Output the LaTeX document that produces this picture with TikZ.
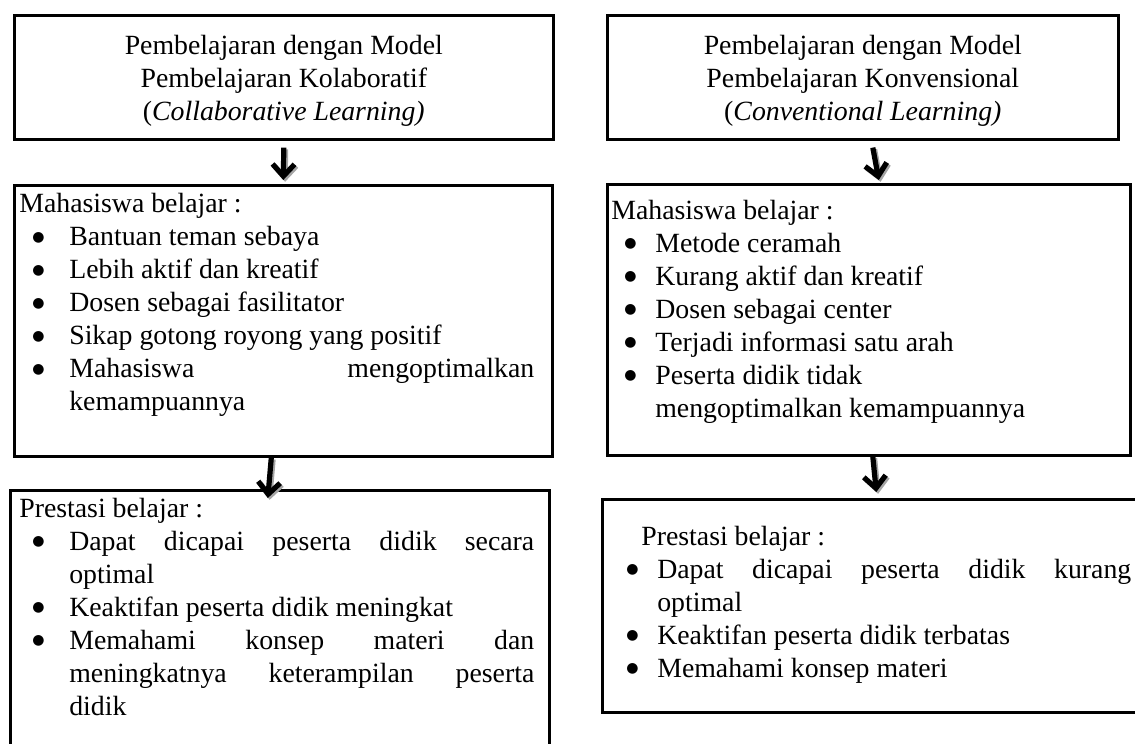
\documentclass[tikz,border=0pt]{standalone}
\usepackage{fontspec}
\setmainfont{Liberation Serif}
\newfontfamily\simbol{DejaVu Sans}
\usetikzlibrary{arrows.meta,positioning}
\newcommand{\teks}{\fontsize{13.9pt}{16.5pt}\selectfont}
\newlength{\gantung}\setlength{\gantung}{25pt}
% one bullet line of a list
\newcommand{\butir}[1]{\par\noindent\hangindent=\gantung\hangafter=1%
  \makebox[\gantung][l]{\hspace{6.5pt}\raisebox{2.4pt}{\simbol\fontsize{7pt}{7pt}\selectfont ●}}#1}
% box content: width, height, left skip, right skip, top gap, text
\newcommand{\isi}[6]{\begin{minipage}[t][#2][t]{#1}%
  \leftskip=#3\rightskip=#4\sloppy\hyphenpenalty=10000%
  \vspace*{#5}#6\end{minipage}}
\tikzset{
  basic/.style  = {draw, line width=1.3pt, inner sep=0pt, anchor=north west, font=\teks},
  judul/.style  = {basic},
  daftar/.style = {basic},
  panah/.style  = {-{Straight Barb[length=6pt,width=11pt]}, line width=2.6pt},
  bayang/.style = {panah, black!35, transform canvas={shift={(0.9pt,-0.9pt)}}}
}
\begin{document}
\begin{tikzpicture}[x=0.5pt, y=-0.5pt]
  \useasboundingbox (0,0) rectangle (1135,744);

  % top row, the two models
  \node[judul] (kolab) at (13,14)
    {\isi{269.5pt}{62pt}{0pt}{0pt}{10.2pt}{\centering Pembelajaran dengan Model\\
      Pembelajaran Kolaboratif\\ (\textit{Collaborative Learning)}}};
  \node[judul] (konven) at (606,14)
    {\isi{255.5pt}{62pt}{0pt}{0pt}{10.2pt}{\centering Pembelajaran dengan Model\\
      Pembelajaran Konvensional\\ (\textit{Conventional Learning)}}};

  % middle row, how students learn
  \node[daftar] (belajarKolab) at (13,184)
    {\isi{269pt}{135.5pt}{2.5pt}{9pt}{4.2pt}{Mahasiswa belajar :
      \butir{Bantuan teman sebaya}
      \butir{Lebih aktif dan kreatif}
      \butir{Dosen sebagai fasilitator}
      \butir{Sikap gotong royong yang positif}
      \butir{Mahasiswa mengoptimalkan\linebreak kemampuannya}}};
  \node[daftar] (belajarKonven) at (606,183)
    {\isi{261.5pt}{135.5pt}{2pt}{5pt}{7.8pt}{\setlength{\gantung}{22pt}Mahasiswa belajar :
      \butir{Metode ceramah}
      \butir{Kurang aktif dan kreatif}
      \butir{Dosen sebagai center}
      \butir{Terjadi informasi satu arah}
      \butir{Peserta didik tidak\newline mengoptimalkan kemampuannya}}};

  % bottom row, the results
  \node[daftar] (hasilKolab) at (9,489)
    {\isi{269.5pt}{140pt}{4.5pt}{7.5pt}{4pt}{Prestasi belajar :
      \butir{Dapat dicapai peserta didik secara\linebreak optimal}
      \butir{Keaktifan peserta didik meningkat}
      \butir{Memahami konsep materi dan\linebreak meningkatnya keterampilan peserta\linebreak didik}}};
  \node[daftar] (hasilKonven) at (601,498)
    {\isi{270pt}{106.5pt}{5.5pt}{5.5pt}{13.6pt}{\setlength{\gantung}{22pt}\hspace*{14pt}Prestasi belajar :
      \butir{Dapat dicapai peserta didik kurang\linebreak optimal}
      \butir{Keaktifan peserta didik terbatas}
      \butir{Memahami konsep materi}}};

  % arrows between the rows
  \foreach \dari/\ke/\geser/\awal/\akhir in
      {kolab/belajarKolab/0/-3.5/2, konven/belajarKonven/5/-3.5/1.5,
       belajarKolab/hasilKolab/-6/0/-4.5, belajarKonven/hasilKonven/2/0/3}
  {
    \draw[bayang] ([xshift=\geser pt,yshift=\awal pt]\dari.south) -- ([xshift=\geser pt,yshift=\akhir pt]\ke.north);
    \draw[panah] ([xshift=\geser pt,yshift=\awal pt]\dari.south) -- ([xshift=\geser pt,yshift=\akhir pt]\ke.north);
  }
\end{tikzpicture}
\end{document}
